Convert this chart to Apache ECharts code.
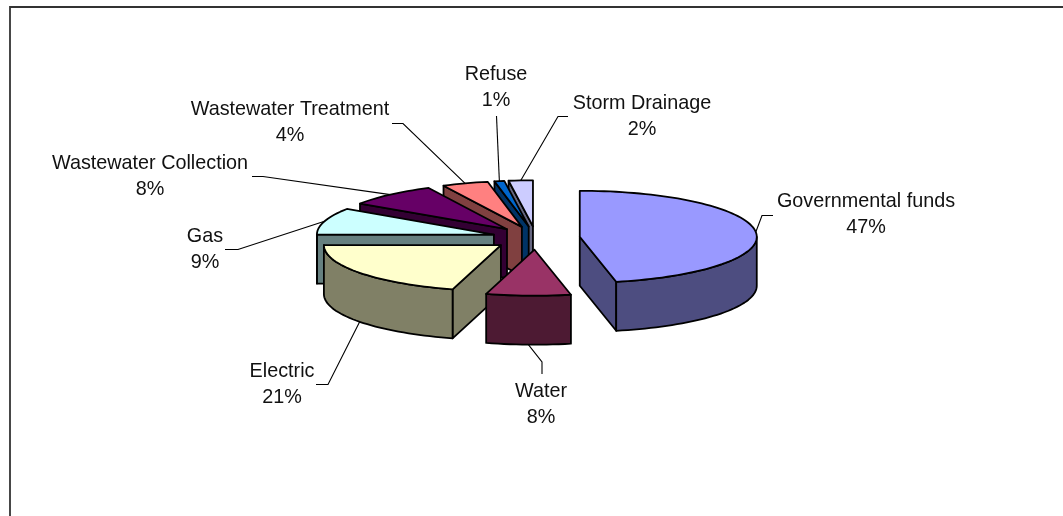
<!DOCTYPE html>
<html>
<head>
<meta charset="utf-8">
<style>html,body{margin:0;padding:0;background:#fff}#c{width:1063px;height:516px}</style>
<script src="https://cdn.jsdelivr.net/npm/echarts@6/dist/echarts.min.js"></script>
</head>
<body>
<div id="c"></div>
<script>
const categories = ['Governmental funds','Water','Electric','Gas','Wastewater Collection','Wastewater Treatment','Refuse','Storm Drainage'];
const values = [46.7, 7.7, 20.6, 9.4, 8.3, 4.2, 0.9, 2.2];
const topColors = ['#9999FF','#993366','#FFFFCC','#CCFFFF','#660066','#FF8080','#0066CC','#CCCCFF'];
const wallColors = ['#4D4D80','#4D1A33','#808066','#668080','#330033','#804040','#003366','#666680'];
// label layout: text centre, leader elbow, leader end next to the text
const labelCentres = [[866,214.5],[541,404.5],[282,384.5],[205,249.5],[150,176.5],[290,122.5],[496,87.5],[642,116.5]];
const elbows = [[762,215.5],[542,362],[328,384.5],[238,249.5],[263,176.5],[403,123.5],[496.5,116],[558,116.5]];
const leaderEnds = [[773,215.5],[542,374],[316,384.5],[225,249.5],[252,176.5],[392,123.5],[496.5,116],[568,116.5]];

const geom = {cx:536, cy:238, rx:177, ry:46, depth:49, explodeX:44, explodeY:11.7};
const total = values.reduce((a,b)=>a+b,0);
const rad = d => d*Math.PI/180;
let run = 0;
const slices = values.map((v,i)=>{
  const a0 = run/total*360; run += v; const a1 = run/total*360; const mid=(a0+a1)/2;
  return {i, a0, a1, mid,
    ax: geom.cx + geom.explodeX*Math.sin(rad(mid)),
    ay: geom.cy - geom.explodeY*Math.cos(rad(mid))};
});
const rim = (s,a,dy=0)=>[s.ax+geom.rx*Math.sin(rad(a)), s.ay-geom.ry*Math.cos(rad(a))+dy];
const arcPts = (s,a0,a1,dy=0)=>{
  const n=Math.max(2,Math.ceil((a1-a0)/2)), p=[];
  for(let k=0;k<=n;k++) p.push(rim(s,a0+(a1-a0)*k/n,dy));
  return p;
};
const drawOrder = slices.slice().sort((a,b)=>Math.cos(rad(b.mid))-Math.cos(rad(a.mid))).map(s=>s.i);
const outline = {stroke:'#000', lineWidth:1.8, lineJoin:'round'};

function renderSlice(params, api){
  const s = slices[api.value(0)], i=s.i, kids=[], d=geom.depth;
  const poly=(pts,fill)=>kids.push({type:'polygon',shape:{points:pts},style:Object.assign({fill},outline)});
  const wall=(a)=>{const r=rim(s,a);poly([[s.ax,s.ay],r,[r[0],r[1]+d],[s.ax,s.ay+d]],wallColors[i]);};
  // leader line, anchored on the rim at the slice's mid angle
  const front = Math.cos(rad(s.mid))<0;
  const anchor = rim(s,s.mid,front?d:0);
  kids.push({type:'polyline',shape:{points:[anchor,elbows[i],leaderEnds[i]]},style:{fill:null,stroke:'#000',lineWidth:1.1}});
  // walls
  if(Math.sin(rad(s.a0))<0) wall(s.a0);
  if(Math.sin(rad(s.a1))>0) wall(s.a1);
  const f0=Math.max(s.a0,90), f1=Math.min(s.a1,270);
  if(f1>f0) poly(arcPts(s,f0,f1).concat(arcPts(s,f0,f1,d).reverse()),wallColors[i]);
  // top face
  poly([[s.ax,s.ay]].concat(arcPts(s,s.a0,s.a1)),topColors[i]);
  // label
  kids.push({type:'text',z2:10,style:{
    x:labelCentres[i][0],y:labelCentres[i][1],
    text:categories[i]+'\n'+Math.round(values[i]/total*100)+'%',
    align:'center',verticalAlign:'middle',lineHeight:26.5,
    font:'19.8px "Liberation Sans", Arial, sans-serif',fill:'#111'}});
  return {type:'group',children:kids};
}

const chart = echarts.init(document.getElementById('c'),null,{renderer:'canvas'});
chart.setOption({
  animation:false,
  backgroundColor:'#fff',
  graphic:[
    {type:'polyline',silent:true,shape:{points:[[1063,7],[10,7],[10,516]]},style:{fill:null,stroke:'#333',lineWidth:1.8}}
  ],
  series:[{
    type:'custom',
    coordinateSystem:'none',
    silent:true,
    renderItem:renderSlice,
    data:drawOrder.map(i=>[i])
  }]
});
</script>
</body>
</html>
